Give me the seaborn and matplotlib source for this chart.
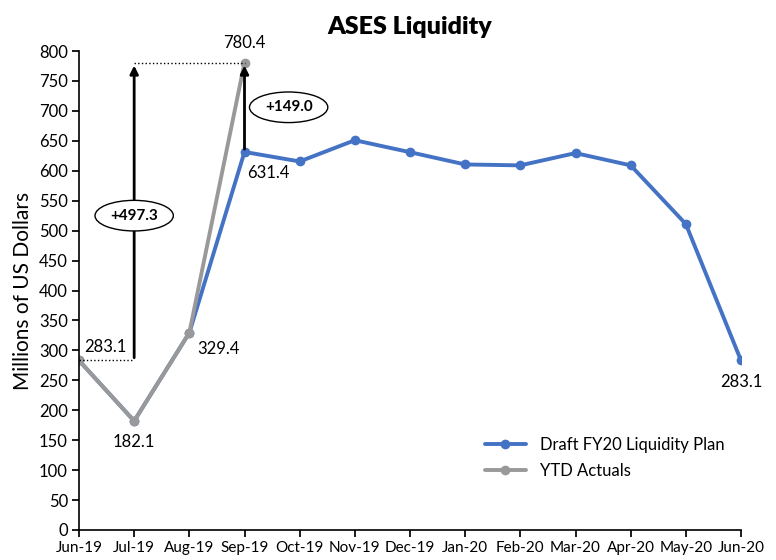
import numpy as np
import pandas as pd
import matplotlib
matplotlib.use('Agg')
import matplotlib.pyplot as plt
import seaborn as sns

months = ['Jun-19', 'Jul-19', 'Aug-19', 'Sep-19', 'Oct-19', 'Nov-19', 'Dec-19',
          'Jan-20', 'Feb-20', 'Mar-20', 'Apr-20', 'May-20', 'Jun-20']
plan = [283.1, 182.1, 329.4, 631.4, 615.5, 651.0, 631.0, 610.5, 609.0, 629.5, 609.0, 511.0, 283.1]
actuals = [283.1, 182.1, 329.4, 780.4]

sns.set_theme(style='white')
plt.rcParams['font.family'] = ['Lato', 'DejaVu Sans']
plt.rcParams['text.color'] = 'black'
plt.rcParams['axes.labelcolor'] = 'black'
plt.rcParams['xtick.color'] = 'black'
plt.rcParams['ytick.color'] = 'black'

df_plan = pd.DataFrame({'x': np.arange(len(plan)), 'y': plan})
df_act = pd.DataFrame({'x': np.arange(len(actuals)), 'y': actuals})

fig = plt.figure(figsize=(7.76, 5.6), dpi=100)
ax = fig.add_axes([79 / 776, 30 / 560, 662 / 776, 479 / 560])

sns.lineplot(data=df_plan, x='x', y='y', ax=ax, color='#4472C4', linewidth=2.8,
             marker='o', markersize=7, markeredgewidth=0, label='Draft FY20 Liquidity Plan')
sns.lineplot(data=df_act, x='x', y='y', ax=ax, color='#999999', linewidth=2.8,
             marker='o', markersize=7, markeredgewidth=0, label='YTD Actuals')

ax.set_xlim(0, len(months) - 1)
ax.set_ylim(0, 800)
ax.set_yticks(np.arange(0, 801, 50))
ax.set_xticks(np.arange(len(months)))
ax.set_xticklabels(months)
ax.tick_params(axis='both', labelsize=12, length=5, color='black', direction='out',
               bottom=True, left=True, pad=3)
ax.tick_params(axis='x', labelsize=11)
for s in ['top', 'right']:
    ax.spines[s].set_visible(False)
for s in ['left', 'bottom']:
    ax.spines[s].set_color('black')
    ax.spines[s].set_linewidth(1.2)
ax.set_xlabel('')
ax.set_ylabel('Millions of US Dollars', fontsize=15)
ax.set_title('ASES Liquidity', fontsize=18, fontweight='heavy', pad=12)

# change annotations
ax.plot([0, 1], [actuals[0], actuals[0]], ls=':', color='black', lw=1)
ax.plot([1, 3], [actuals[3], actuals[3]], ls=':', color='black', lw=1)
ax.annotate('', xy=(1, actuals[3]), xytext=(1, actuals[0]),
            arrowprops=dict(arrowstyle='-|>', color='black', lw=2, mutation_scale=12))
ax.annotate('', xy=(3, actuals[3]), xytext=(3, plan[3]),
            arrowprops=dict(arrowstyle='-|>', color='black', lw=2, mutation_scale=12))
ell = dict(boxstyle='ellipse,pad=0.25', fc='white', ec='black', lw=1)
ax.text(1, 525, '+%.1f' % (actuals[3] - actuals[0]), ha='center', va='center',
        fontsize=11, fontweight='bold', bbox=ell)
ax.text(3.8, 706, '+%.1f' % (actuals[3] - plan[3]), ha='center', va='center',
        fontsize=11, fontweight='bold', bbox=ell)

# data labels
lab = dict(fontsize=12, color='black')
ax.text(0.1, 292, '%.1f' % plan[0], ha='left', va='bottom', **lab)
ax.text(1, 160, '%.1f' % plan[1], ha='center', va='top', **lab)
ax.text(2.15, 315, '%.1f' % plan[2], ha='left', va='top', **lab)
ax.text(3, 800, '%.1f' % actuals[3], ha='center', va='bottom', **lab)
ax.text(3.05, 610, '%.1f' % plan[3], ha='left', va='top', **lab)
ax.text(12, 260, '%.1f' % plan[12], ha='center', va='top', **lab)

leg = ax.legend(loc='upper left', bbox_to_anchor=(0.59, 0.225), frameon=False, fontsize=12,
                handlelength=2.5, labelspacing=0.6)

fig.savefig('out.png', dpi=100)
